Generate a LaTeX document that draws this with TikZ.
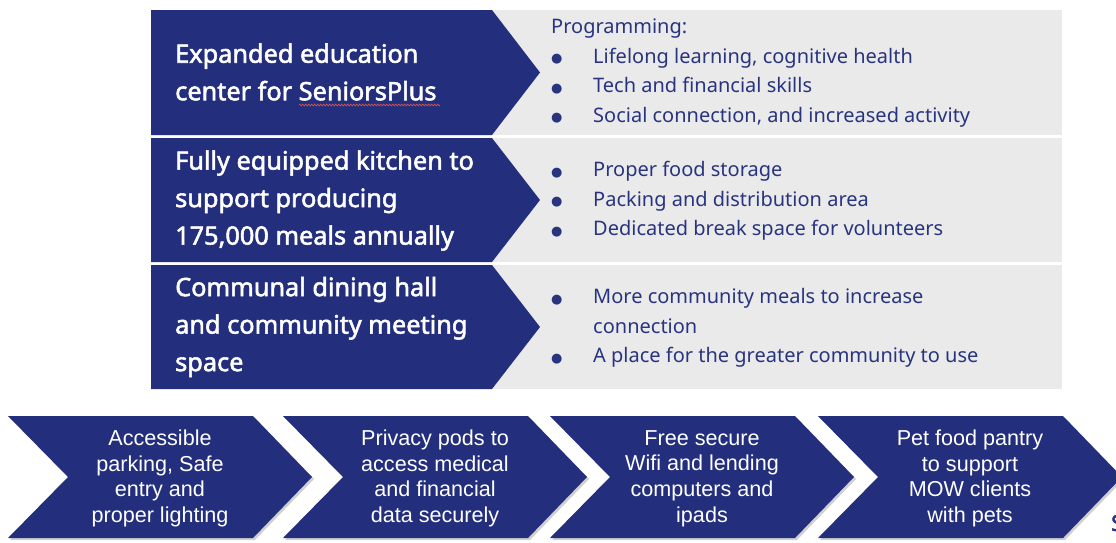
\documentclass[tikz,border=0pt]{standalone}
\usepackage{fontspec}
\newfontfamily\rob{Noto Sans}
\newfontfamily\robb[FakeBold=2.1]{Noto Sans}
\newfontfamily\arl{Liberation Sans}
\newfontfamily\dvs{DejaVu Sans}
\usetikzlibrary{shadows,decorations.pathmorphing}
\definecolor{navy}{HTML}{232E7D}
\definecolor{navytxt}{HTML}{29347F}
\definecolor{panel}{HTML}{EAEAEA}
\definecolor{squig}{HTML}{D9534F}
\tikzset{
  darkbox/.style={fill=navy},
  greybox/.style={fill=panel},
  titletext/.style={anchor=west, inner sep=0pt, text=white, align=left,
    font=\robb\fontsize{25.3}{37.5}\selectfont},
  listtext/.style={anchor=west, inner sep=0pt, text=navytxt, align=left,
    font=\rob\fontsize{20}{29.5}\selectfont},
  chev/.style={fill=navy, drop shadow={shadow xshift=2pt, shadow yshift=-2pt, opacity=0.3, fill=black!60}},
  chevtext/.style={inner sep=0pt, text=white, align=center,
    font=\arl\fontsize{21.6}{25.7}\selectfont}
}
\newcommand{\bul}{\makebox[42pt][l]{\raisebox{0.5pt}{\dvs\fontsize{13}{13}\selectfont ●}}}
\begin{document}
\begin{tikzpicture}[x=1pt,y=-1pt]
\useasboundingbox (0,0) rectangle (1116,542);
\fill[white] (0,0) rectangle (1116,542);
% top rows
\foreach \t/\b in {10/135, 138/262, 265/389}{
  \path[greybox] (492,\t) rectangle (1062,\b);
  \path[darkbox] (151,\t) -- (492,\t) -- (540,{(\t+\b)/2}) -- (492,\b) -- (151,\b) -- cycle;
}
\node[titletext] (t1) at (175,72) {Expanded education\\center for SeniorsPlus};
\node[titletext] (t2) at (175,200.5) {Fully equipped kitchen to\\support producing\\175,000 meals annually};
\node[titletext] (t3) at (175,327) {Communal dining hall\\and community meeting\\space};
\draw[squig, line width=0.6pt, decorate, decoration={zigzag, amplitude=1pt, segment length=3pt}] (299,105) -- (440,105);
\node[listtext] (l1) at (551,73) {Programming:\\\bul Lifelong learning, cognitive health\\\bul Tech and financial skills\\\bul Social connection, and increased activity};
\node[listtext] (l2) at (551,201) {\bul Proper food storage\\\bul Packing and distribution area\\\bul Dedicated break space for volunteers};
\node[listtext] (l3) at (551,328) {\bul More community meals to increase\\\hspace*{42pt}connection\\\bul A place for the greater community to use};
% bottom chevrons
\foreach \L/\n/\txt in {8/c1/{Accessible\\parking, Safe\\entry and\\proper lighting},
                        283/c2/{Privacy pods to\\access medical\\and financial\\data securely},
                        550/c3/{Free secure\\Wifi and lending\\computers and\\ipads},
                        818/c4/{Pet food pantry\\to support\\MOW clients\\with pets}}{
  \path[chev] (\L,416) -- (\L+245,416) -- (\L+304,477) -- (\L+245,538) -- (\L,538) -- (\L+60,477) -- cycle;
  \node[chevtext] (\n) at (\L+152,478.5) {\txt};
}
\node[anchor=west, inner sep=0pt, text=navytxt, font=\robb\fontsize{22}{22}\selectfont] (cut) at (1111,523) {S};
\end{tikzpicture}
\end{document}
